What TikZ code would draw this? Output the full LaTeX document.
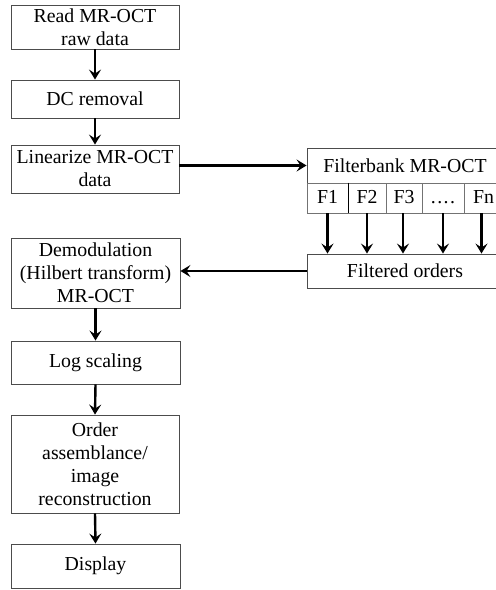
\documentclass[tikz,border=0pt]{standalone}
\usepackage{fontspec}
\setmainfont{Liberation Serif}
\usetikzlibrary{arrows.meta}
\begin{document}
\begin{tikzpicture}[x=1pt,y=-1pt,
  box/.style={draw=black!70, line width=0.9pt, fill=white, inner sep=0pt, align=center,
    font=\fontsize{19.8}{23}\selectfont, minimum width=168pt},
  cell/.style={draw=black!55, line width=0.9pt, inner sep=0pt, font=\fontsize{19.8}{23}\selectfont, minimum height=30pt, text height=14pt, text depth=4pt},
  arr/.style={line width=2.4pt, -{Stealth[length=10pt,width=12pt,inset=4pt]}}]
\useasboundingbox (0,0) rectangle (496,590);
\clip (0,0) rectangle (496,590);
% left column
\node[box, minimum height=44pt] (b1) at (95,27) {Read MR-OCT\\raw data};
\node[box, minimum height=38pt] (b2) at (95,99) {DC removal};
\node[box, minimum height=48pt] (b3) at (95,169) {Linearize MR-OCT\\data};
\node[box, minimum height=70pt, minimum width=169pt] (b4) at (95.5,273) {Demodulation\\(Hilbert transform)\\MR-OCT};
\node[box, minimum height=43pt, minimum width=169pt] (b5) at (95.5,362.5) {Log scaling};
\node[box, minimum height=98pt] (b6) at (95,464) {Order\\assemblance/\\image\\reconstruction};
\node[box, minimum height=44pt, minimum width=169pt] (b7) at (95.5,566) {Display};
% filterbank
\node[box, minimum height=35pt, minimum width=196pt] (fb) at (405,165.5) {Filterbank MR-OCT};
\node[cell, minimum width=41pt] (f1) at (327.5,198) {F1};
\node[cell, minimum width=38pt] (f2) at (367,198) {F2};
\node[cell, minimum width=36pt] (f3) at (404,198) {F3};
\node[cell, minimum width=42pt] (f4) at (443,198) {.\kern1.5pt.\kern1.5pt.\kern1.5pt.};
\node[cell, minimum width=39pt] (fn) at (483.5,198) {Fn};
\draw[black, line width=1.1pt] (f1.north east) -- (f1.south east);
\node[box, minimum height=34pt, minimum width=196pt] (fo) at (405,271) {Filtered orders};
% arrows
\draw[arr] (b1.south) -- (b2.north);
\draw[arr] (b2.south) -- (b3.north);
\draw[arr] (b3.east |- fb.west) -- (fb.west);
\draw[arr] (fo.west) -- (fo.west -| b4.east);
\draw[arr] (b4.south) -- (b5.north);
\draw[arr] (b5.south) -- (b6.north);
\draw[arr] (b6.south) -- (b7.north);
\foreach \c/\dx in {f1/0,f2/0,f3/-1,f4/0,fn/-2}
  \draw[arr] ([xshift=\dx pt]\c.south) -- ([xshift=\dx pt]\c.south |- fo.north);
\end{tikzpicture}
\end{document}
